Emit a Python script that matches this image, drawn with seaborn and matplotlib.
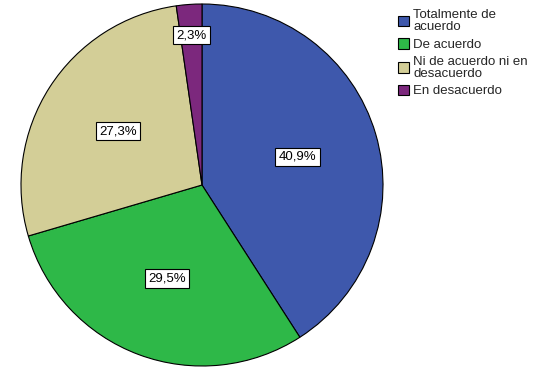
import matplotlib
matplotlib.use("Agg")
import matplotlib.pyplot as plt
import seaborn as sns
import numpy as np

categories = ["Totalmente de\nacuerdo", "De acuerdo", "Ni de acuerdo ni en\ndesacuerdo", "En desacuerdo"]
counts = [18, 13, 12, 1]
colors = ["#3E58AC", "#2EB848", "#D3CE97", "#7C287D"]

sns.set_style("white")
plt.rcParams['font.family'] = ['Liberation Sans', 'DejaVu Sans']

W, H = 533, 369
fig = plt.figure(figsize=(W / 100, H / 100), dpi=100)
cx, cy, r = 202, 185, 181
ax = fig.add_axes([(cx - r) / W, (H - cy - r) / H, 2 * r / W, 2 * r / H])

total = sum(counts)
wedges, texts, autotexts = ax.pie(
    counts, colors=colors, startangle=90, counterclock=False, radius=1,
    autopct=lambda p: f"{p:.1f}%".replace(".", ","), pctdistance=0.55,
    wedgeprops=dict(edgecolor="black", linewidth=0.8),
    textprops=dict(fontsize=9.5, color="black"))
for w, t, c in zip(wedges, autotexts, counts):
    if c / total < 0.05:
        ang = np.deg2rad((w.theta1 + w.theta2) / 2)
        t.set_position((0.83 * np.cos(ang), 0.83 * np.sin(ang)))
    t.set_bbox(dict(facecolor="white", edgecolor="black", linewidth=0.8, boxstyle="square,pad=0.25"))
ax.set_xlim(-1, 1)
ax.set_ylim(-1, 1)
ax.set_aspect("equal")
ax.axis("off")

leg = fig.legend(wedges, categories, loc="upper left", bbox_to_anchor=(398 / W, 1 - 9 / H),
                 frameon=False, fontsize=9.5, handlelength=0.85, handleheight=0.85,
                 handletextpad=0.3, labelspacing=0.35, borderaxespad=0, borderpad=0)
for txt in leg.get_texts():
    txt.set_linespacing(1.05)
fig.savefig("out.png", dpi=100, facecolor="white")
